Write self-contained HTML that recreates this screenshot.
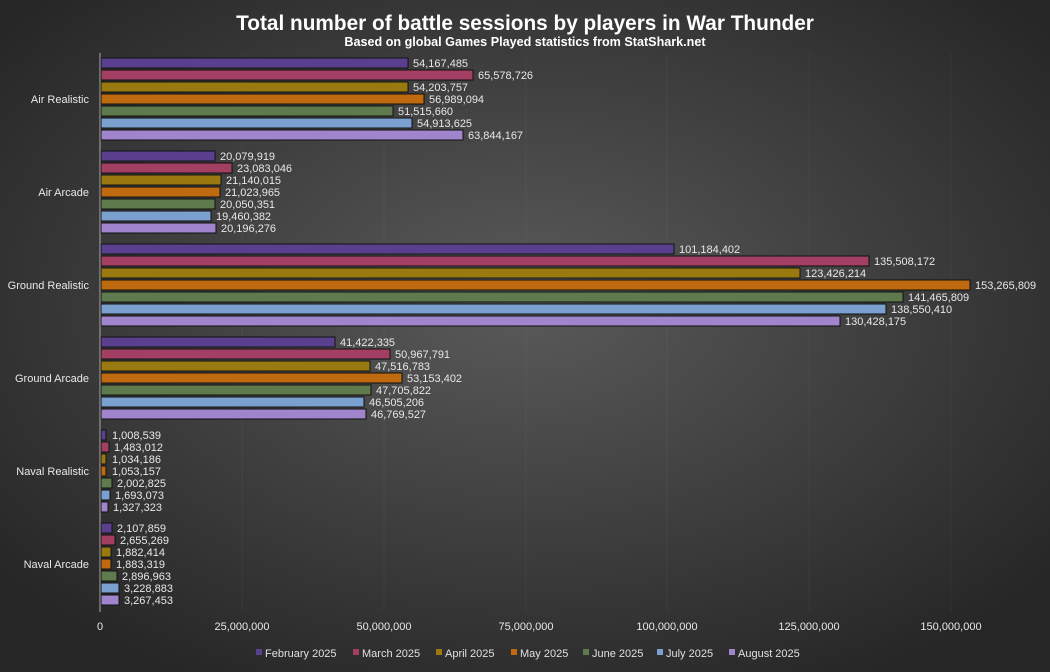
<!DOCTYPE html>
<html><head><meta charset="utf-8"><style>
html,body{margin:0;padding:0;width:1050px;height:672px;overflow:hidden;background:#333}
svg{display:block;font-family:"Liberation Sans",sans-serif}
</style></head><body>
<svg width="1050" height="672" viewBox="0 0 1050 672" xmlns="http://www.w3.org/2000/svg">
<defs>
<radialGradient id="bg" cx="50%" cy="45%" r="65%">
<stop offset="0" stop-color="#5a5a5a"/><stop offset="1" stop-color="#262626"/>
</radialGradient>
</defs>
<rect width="1050" height="672" fill="url(#bg)"/>
<g stroke="#fff" stroke-opacity="0.04">
<line x1="242" y1="53" x2="242" y2="612"/><line x1="384" y1="53" x2="384" y2="612"/><line x1="526" y1="53" x2="526" y2="612"/><line x1="667" y1="53" x2="667" y2="612"/><line x1="809" y1="53" x2="809" y2="612"/><line x1="951" y1="53" x2="951" y2="612"/>
</g>
<line x1="100" y1="53" x2="100" y2="612" stroke="#aaa" stroke-width="1"/>
<text x="525" y="30" fill="#fff" font-size="20.8" font-weight="bold" text-anchor="middle">Total number of battle sessions by players in War Thunder</text>
<text x="525" y="46" fill="#fff" font-size="12.6" font-weight="bold" text-anchor="middle">Based on global Games Played statistics from StatShark.net</text>
<g fill="#e8e8e8" font-size="11" text-anchor="end">
<text x="89" y="103">Air Realistic</text>
<text x="89" y="196">Air Arcade</text>
<text x="89" y="289">Ground Realistic</text>
<text x="89" y="382">Ground Arcade</text>
<text x="89" y="475">Naval Realistic</text>
<text x="89" y="568">Naval Arcade</text>
</g>
<g fill="#e8e8e8" font-size="11" text-anchor="middle">
<text x="100" y="630">0</text><text x="242" y="630">25,000,000</text><text x="384" y="630">50,000,000</text><text x="526" y="630">75,000,000</text><text x="667" y="630">100,000,000</text><text x="809" y="630">125,000,000</text><text x="951" y="630">150,000,000</text>
</g>
<g stroke="#111" stroke-width="1">
<rect x="101" y="58" width="307" height="10" fill="#5b3f8f"/>
<rect x="101" y="70" width="372" height="10" fill="#a33f62"/>
<rect x="101" y="82" width="307" height="10" fill="#9a7a10"/>
<rect x="101" y="94" width="323" height="10" fill="#c06a10"/>
<rect x="101" y="106" width="292" height="10" fill="#5f7a4c"/>
<rect x="101" y="118" width="311" height="10" fill="#7aa0d0"/>
<rect x="101" y="130" width="362" height="10" fill="#a084cc"/>

<rect x="101" y="151" width="114" height="10" fill="#5b3f8f"/>
<rect x="101" y="163" width="131" height="10" fill="#a33f62"/>
<rect x="101" y="175" width="120" height="10" fill="#9a7a10"/>
<rect x="101" y="187" width="119" height="10" fill="#c06a10"/>
<rect x="101" y="199" width="114" height="10" fill="#5f7a4c"/>
<rect x="101" y="211" width="110" height="10" fill="#7aa0d0"/>
<rect x="101" y="223" width="115" height="10" fill="#a084cc"/>

<rect x="101" y="244" width="573" height="10" fill="#5b3f8f"/>
<rect x="101" y="256" width="768" height="10" fill="#a33f62"/>
<rect x="101" y="268" width="699" height="10" fill="#9a7a10"/>
<rect x="101" y="280" width="869" height="10" fill="#c06a10"/>
<rect x="101" y="292" width="802" height="10" fill="#5f7a4c"/>
<rect x="101" y="304" width="785" height="10" fill="#7aa0d0"/>
<rect x="101" y="316" width="739" height="10" fill="#a084cc"/>

<rect x="101" y="337" width="234" height="10" fill="#5b3f8f"/>
<rect x="101" y="349" width="289" height="10" fill="#a33f62"/>
<rect x="101" y="361" width="269" height="10" fill="#9a7a10"/>
<rect x="101" y="373" width="301" height="10" fill="#c06a10"/>
<rect x="101" y="385" width="270" height="10" fill="#5f7a4c"/>
<rect x="101" y="397" width="263" height="10" fill="#7aa0d0"/>
<rect x="101" y="409" width="265" height="10" fill="#a084cc"/>

<rect x="101" y="430" width="5" height="10" fill="#5b3f8f"/>
<rect x="101" y="442" width="8" height="10" fill="#a33f62"/>
<rect x="101" y="454" width="5" height="10" fill="#9a7a10"/>
<rect x="101" y="466" width="5" height="10" fill="#c06a10"/>
<rect x="101" y="478" width="11" height="10" fill="#5f7a4c"/>
<rect x="101" y="490" width="9" height="10" fill="#7aa0d0"/>
<rect x="101" y="502" width="7" height="10" fill="#a084cc"/>

<rect x="101" y="523" width="11" height="10" fill="#5b3f8f"/>
<rect x="101" y="535" width="14" height="10" fill="#a33f62"/>
<rect x="101" y="547" width="10" height="10" fill="#9a7a10"/>
<rect x="101" y="559" width="10" height="10" fill="#c06a10"/>
<rect x="101" y="571" width="16" height="10" fill="#5f7a4c"/>
<rect x="101" y="583" width="18" height="10" fill="#7aa0d0"/>
<rect x="101" y="595" width="18" height="10" fill="#a084cc"/>
</g>
<g fill="#e8e8e8" font-size="11">
<text x="413" y="67">54,167,485</text><text x="478" y="79">65,578,726</text><text x="413" y="91">54,203,757</text><text x="429" y="103">56,989,094</text><text x="398" y="115">51,515,660</text><text x="417" y="127">54,913,625</text><text x="468" y="139">63,844,167</text>
<text x="220" y="160">20,079,919</text><text x="237" y="172">23,083,046</text><text x="226" y="184">21,140,015</text><text x="225" y="196">21,023,965</text><text x="220" y="208">20,050,351</text><text x="216" y="220">19,460,382</text><text x="221" y="232">20,196,276</text>
<text x="679" y="253">101,184,402</text><text x="874" y="265">135,508,172</text><text x="805" y="277">123,426,214</text><text x="975" y="289">153,265,809</text><text x="908" y="301">141,465,809</text><text x="891" y="313">138,550,410</text><text x="845" y="325">130,428,175</text>
<text x="340" y="346">41,422,335</text><text x="395" y="358">50,967,791</text><text x="375" y="370">47,516,783</text><text x="407" y="382">53,153,402</text><text x="376" y="394">47,705,822</text><text x="369" y="406">46,505,206</text><text x="371" y="418">46,769,527</text>
<text x="112" y="439">1,008,539</text><text x="114" y="451">1,483,012</text><text x="112" y="463">1,034,186</text><text x="112" y="475">1,053,157</text><text x="117" y="487">2,002,825</text><text x="115" y="499">1,693,073</text><text x="113" y="511">1,327,323</text>
<text x="117" y="532">2,107,859</text><text x="120" y="544">2,655,269</text><text x="116" y="556">1,882,414</text><text x="116" y="568">1,883,319</text><text x="122" y="580">2,896,963</text><text x="124" y="592">3,228,883</text><text x="124" y="604">3,267,453</text>
</g>
<g font-size="11" fill="#e0e0e0">
<rect x="256" y="649" width="6" height="6" fill="#5b3f8f"/><text x="265" y="657">February 2025</text>
<rect x="353" y="649" width="6" height="6" fill="#a33f62"/><text x="362" y="657">March 2025</text>
<rect x="436" y="649" width="6" height="6" fill="#9a7a10"/><text x="445" y="657">April 2025</text>
<rect x="511" y="649" width="6" height="6" fill="#c06a10"/><text x="520" y="657">May 2025</text>
<rect x="583" y="649" width="6" height="6" fill="#5f7a4c"/><text x="592" y="657">June 2025</text>
<rect x="657" y="649" width="6" height="6" fill="#7aa0d0"/><text x="666" y="657">July 2025</text>
<rect x="729" y="649" width="6" height="6" fill="#a084cc"/><text x="738" y="657">August 2025</text>
</g>
</svg>
</body></html>
